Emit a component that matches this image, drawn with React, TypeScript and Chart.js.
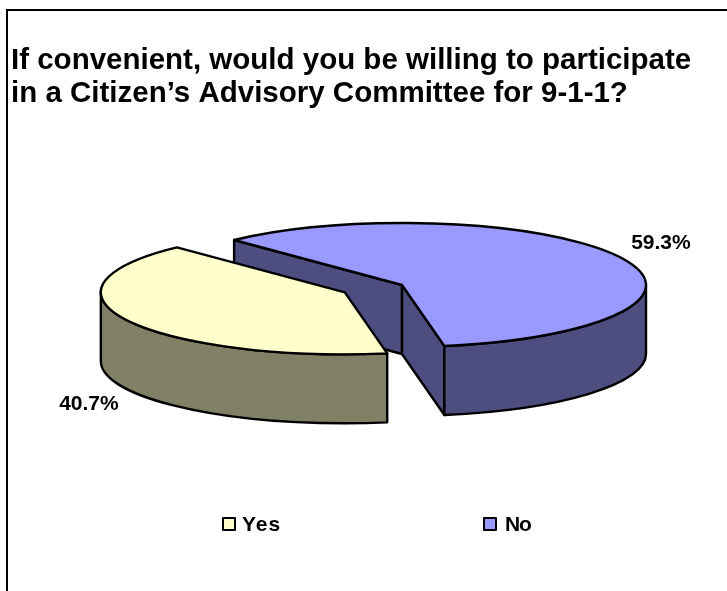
import React, { useEffect, useRef } from "react";
import { Chart, registerables } from "chart.js";

Chart.register(...registerables);

const titleLines = [
  "If convenient, would you be willing to participate",
  "in a Citizen\u2019s Advisory Committee for 9-1-1?",
];
const categories = ["Yes", "No"];
const shares = [40.7, 59.3];
const topColors = ["#FFFFCC", "#9999FF"];
const sideColors = ["#808066", "#4D4D80"];
const explodeBy = [64, 0];

// Projection of the flat pie onto its tilted plane.
const PIE_X = 402;
const PIE_Y = 285;
const PIE_RADIUS = 244;
const TILT = 0.254;
const DEPTH = 69;
const START_ROTATION = 170;
const OUTLINE = "#000000";
const OUTLINE_WIDTH = 2.4;

// Where the percentage text sits relative to each slice's outer rim mid-point.
const labelShift = [
  { x: -38, y: 84 },
  { x: 41, y: -14 },
];
const legendSwatchX = [223, 484];
const legendTextX = [242, 505];
const legendTracking = ["1px", "-1.2px"];
const legendY = 524;

const FONT = '"Liberation Sans", Arial, sans-serif';

const sy = (y: number) => PIE_Y + (y - PIE_Y) * TILT;

function sidePaths(ctx: CanvasRenderingContext2D, arc: any, color: string) {
  const rx = arc.x;
  const ry = sy(arc.y);
  const R = arc.outerRadius;
  const a0 = arc.startAngle;
  const a1 = arc.endAngle;
  const px = (a: number) => rx + R * Math.cos(a);
  const py = (a: number) => ry + R * TILT * Math.sin(a);

  ctx.fillStyle = color;
  ctx.strokeStyle = OUTLINE;
  ctx.lineWidth = OUTLINE_WIDTH;
  ctx.lineJoin = "round";

  const face = (a: number) => {
    ctx.beginPath();
    ctx.moveTo(rx, ry);
    ctx.lineTo(px(a), py(a));
    ctx.lineTo(px(a), py(a) + DEPTH);
    ctx.lineTo(rx, ry + DEPTH);
    ctx.closePath();
    ctx.fill();
    ctx.stroke();
  };
  // A cut face shows only when its outward normal leans toward the viewer.
  if (Math.sin(a0 - Math.PI / 2) > 0) face(a0);
  if (Math.sin(a1 + Math.PI / 2) > 0) face(a1);

  // Outer wall: the lower half of the ellipse only.
  for (let k = -1; k <= 2; k++) {
    const lo = Math.max(a0, k * 2 * Math.PI);
    const hi = Math.min(a1, k * 2 * Math.PI + Math.PI);
    if (hi <= lo) continue;
    ctx.beginPath();
    ctx.ellipse(rx, ry, R, R * TILT, 0, lo, hi);
    ctx.lineTo(px(hi), py(hi) + DEPTH);
    ctx.ellipse(rx, ry + DEPTH, R, R * TILT, 0, hi, lo, true);
    ctx.closePath();
    ctx.fill();
    ctx.stroke();
  }
}

const tiltedPie = {
  id: "tiltedPie",
  afterDatasetUpdate(chart: any) {
    // Slices are pulled apart along their bisector on the flat plane.
    chart.getDatasetMeta(0).data.forEach((arc: any, i: number) => {
      const mid = (arc.startAngle + arc.endAngle) / 2;
      arc.x = PIE_X + Math.cos(mid) * explodeBy[i];
      arc.y = PIE_Y + Math.sin(mid) * explodeBy[i];
    });
  },
  beforeDatasetsDraw(chart: any) {
    const { ctx } = chart;
    const arcs = chart.getDatasetMeta(0).data;
    // Walls go first, back slice before the pulled-out one.
    sidePaths(ctx, arcs[1], sideColors[1]);
    sidePaths(ctx, arcs[0], sideColors[0]);
    ctx.save();
    ctx.translate(0, PIE_Y);
    ctx.scale(1, TILT);
    ctx.translate(0, -PIE_Y);
  },
  afterDatasetsDraw(chart: any) {
    const { ctx } = chart;
    ctx.restore();
    chart.getDatasetMeta(0).data.forEach((arc: any, i: number) => {
      const rx = arc.x;
      const ry = sy(arc.y);
      const R = arc.outerRadius;
      ctx.beginPath();
      ctx.moveTo(rx, ry);
      ctx.ellipse(rx, ry, R, R * TILT, 0, arc.startAngle, arc.endAngle);
      ctx.closePath();
      ctx.strokeStyle = OUTLINE;
      ctx.lineWidth = OUTLINE_WIDTH;
      ctx.lineJoin = "round";
      ctx.stroke();

      const mid = (arc.startAngle + arc.endAngle) / 2;
      ctx.fillStyle = "#000000";
      ctx.font = `bold 21px ${FONT}`;
      ctx.textAlign = "center";
      ctx.textBaseline = "middle";
      ctx.fillText(
        `${shares[i].toFixed(1)}%`,
        rx + R * Math.cos(mid) + labelShift[i].x,
        ry + R * TILT * Math.sin(mid) + labelShift[i].y
      );
    });

    // Legend row
    categories.forEach((name, i) => {
      ctx.fillStyle = topColors[i];
      ctx.strokeStyle = OUTLINE;
      ctx.lineWidth = 2;
      ctx.fillRect(legendSwatchX[i], legendY - 6, 12, 12);
      ctx.strokeRect(legendSwatchX[i], legendY - 6, 12, 12);
      ctx.fillStyle = "#000000";
      ctx.font = `bold 21px ${FONT}`;
      ctx.textAlign = "left";
      ctx.textBaseline = "middle";
      (ctx as any).letterSpacing = legendTracking[i];
      ctx.fillText(name, legendTextX[i], legendY + 1);
      (ctx as any).letterSpacing = "0px";
    });
  },
  beforeDraw(chart: any) {
    const { ctx, width, height } = chart;
    ctx.save();
    ctx.fillStyle = "#FFFFFF";
    ctx.fillRect(0, 0, width, height);
    ctx.strokeStyle = OUTLINE;
    ctx.lineWidth = 2;
    ctx.strokeRect(7, 10, width + 40, height + 40);
    ctx.restore();
  },
};

export default function App() {
  const ref = useRef<HTMLCanvasElement>(null);
  useEffect(() => {
    document.body.style.margin = "0";
    const chart = new Chart(ref.current!, {
      type: "pie",
      data: {
        labels: categories,
        datasets: [
          {
            data: shares,
            backgroundColor: topColors,
            borderWidth: 0,
            clip: false,
          } as any,
        ],
      },
      options: {
        responsive: false,
        animation: false,
        rotation: START_ROTATION,
        radius: PIE_RADIUS,
        layout: { padding: { left: 11, top: 0, right: 0, bottom: 0 } },
        plugins: {
          legend: { display: false },
          tooltip: { enabled: false },
          title: {
            display: true,
            text: titleLines,
            align: "start",
            color: "#000000",
            font: { family: FONT, size: 29.5, weight: "bold", lineHeight: 1.12 },
            padding: { top: 44, bottom: 10 },
          },
        },
      } as any,
      plugins: [tiltedPie],
    });
    return () => chart.destroy();
  }, []);
  return <canvas ref={ref} width={727} height={591} style={{ display: "block" }} />;
}
